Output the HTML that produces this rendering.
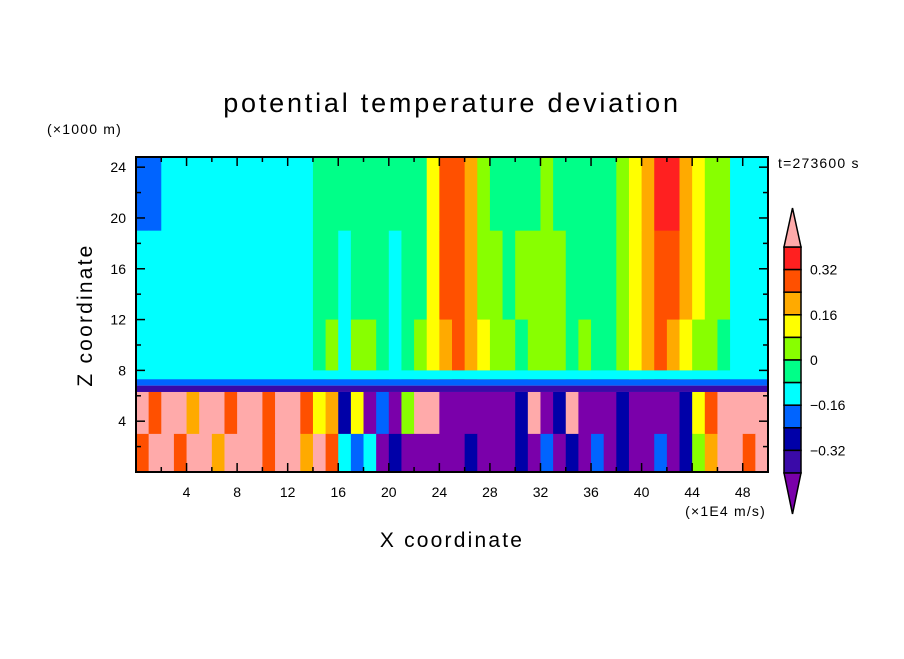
<!DOCTYPE html>
<html><head><meta charset="utf-8"><style>
body{margin:0;background:#fff;}
svg text{font-family:"Liberation Sans",sans-serif;fill:#000;}
</style></head><body>
<svg id="c" width="904" height="654">
<text x="452" y="112" font-size="27" letter-spacing="2.8" text-anchor="middle">potential temperature deviation</text>
<text x="47" y="134" font-size="14" letter-spacing="1.2">(×1000 m)</text>
<text x="778" y="168" font-size="14" letter-spacing="1.2">t=273600 s</text>
<text x="452" y="547" font-size="21" letter-spacing="2.2" text-anchor="middle">X coordinate</text>
<text x="92" y="315" font-size="21" letter-spacing="2.2" text-anchor="middle" transform="rotate(-90 92 315)">Z coordinate</text>
<text x="766" y="516" font-size="14" letter-spacing="1.2" text-anchor="end">(×1E4 m/s)</text>
<g id="plot"></g><g id="axes"></g><g id="cbar"></g>
</svg>
<script>
const xTicks=[4,8,12,16,20,24,28,32,36,40,44,48];
const yTicks=[4,8,12,16,20,24];
const cbLabels=["0.32","0.16","0","−0.16","−0.32"];
const levels=[-0.40,-0.32,-0.24,-0.16,-0.08,0,0.08,0.16,0.24,0.32,0.40];
const colors=["#7a00aa","#3a0aa8","#0000a8","#0064ff","#00ffff","#00ff88","#88ff00","#ffff00","#ffaa00","#ff5000","#ff2020","#ffaaaa"];
// per x-unit columns (0..49), layers by height
const upHigh=[-0.2,-0.2,-0.12,-0.12,-0.12,-0.12,-0.12,-0.12,-0.12,-0.12,-0.12,-0.12,-0.12,-0.12,-0.04,-0.04,-0.04,-0.04,-0.04,-0.04,-0.04,-0.04,-0.04,0.12,0.28,0.28,0.2,0.04,-0.04,-0.04,-0.04,-0.04,0.04,-0.04,-0.04,-0.04,-0.04,-0.04,0.04,0.12,0.2,0.36,0.36,0.2,0.12,0.04,0.04,-0.12,-0.12,-0.12];
const upMid=[-0.12,-0.12,-0.12,-0.12,-0.12,-0.12,-0.12,-0.12,-0.12,-0.12,-0.12,-0.12,-0.12,-0.12,-0.04,-0.04,-0.12,-0.04,-0.04,-0.04,-0.12,-0.04,-0.04,0.12,0.28,0.28,0.2,0.04,0.04,-0.04,0.04,0.04,0.04,0.04,-0.04,-0.04,-0.04,-0.04,0.04,0.12,0.2,0.28,0.28,0.2,0.12,0.04,0.04,-0.12,-0.12,-0.12];
const upLow=[-0.12,-0.12,-0.12,-0.12,-0.12,-0.12,-0.12,-0.12,-0.12,-0.12,-0.12,-0.12,-0.12,-0.12,-0.04,0.04,-0.12,0.04,0.04,-0.04,-0.12,-0.04,0.04,0.12,0.2,0.28,0.2,0.12,0.04,0.04,-0.04,0.04,0.04,0.04,-0.04,0.04,-0.04,-0.04,0.04,0.12,0.2,0.28,0.2,0.12,0.04,0.04,-0.04,-0.12,-0.12,-0.12];
const lowTop=[0.45,0.28,0.45,0.45,0.2,0.45,0.45,0.28,0.45,0.45,0.28,0.45,0.45,0.28,0.12,0.2,-0.3,0.12,-0.45,-0.2,-0.45,0.04,0.45,0.45,-0.45,-0.45,-0.45,-0.45,-0.45,-0.45,-0.3,0.45,-0.45,-0.3,0.45,-0.45,-0.45,-0.45,-0.3,-0.45,-0.45,-0.45,-0.45,-0.3,0.12,0.28,0.45,0.45,0.45,0.45];
const lowBot=[0.28,0.45,0.45,0.28,0.45,0.45,0.2,0.45,0.45,0.45,0.28,0.45,0.45,0.2,0.45,0.28,-0.12,-0.2,-0.12,-0.45,-0.3,-0.45,-0.45,-0.45,-0.45,-0.45,-0.3,-0.45,-0.45,-0.45,-0.3,-0.45,-0.2,-0.45,-0.3,-0.45,-0.2,-0.45,-0.3,-0.45,-0.45,-0.2,-0.45,-0.3,0.04,0.2,0.45,0.45,0.28,0.45];
const X=v=>136+v*(632/50), Z=v=>472-v*(315/24.8);
function col(v){let i=0;while(i<levels.length&&v>=levels[i])i++;return colors[i];}
const ns="http://www.w3.org/2000/svg";
function mk(t,a,p){const e=document.createElementNS(ns,t);for(const k in a)e.setAttribute(k,a[k]);p.appendChild(e);return e;}
const plot=document.getElementById('plot');
const layers=[[upHigh,19,24.8,'cell-upper-high'],[upMid,12,19,'cell-upper-mid'],[upLow,7.3,12,'cell-upper-low'],[lowTop,3,6.3,'cell-lower-top'],[lowBot,0,3,'cell-lower-bottom']];
layers.forEach(([arr,z0,z1,nm])=>{
 for(let i=0;i<arr.length;i++){
  const r=mk('rect',{x:X(i),y:Z(z1),width:X(i+1)-X(i)+0.5,height:Z(z0)-Z(z1)+0.5,fill:col(arr[i])},plot);
  
  
 }
});
let c=mk('rect',{x:X(0),y:Z(8),width:632,height:Z(7.3)-Z(8),fill:"#00ffff"},plot);


let b=mk('rect',{x:X(0),y:Z(7.3),width:632,height:Z(6.8)-Z(7.3),fill:"#0064ff"},plot);


b=mk('rect',{x:X(0),y:Z(6.8),width:632,height:Z(6.3)-Z(6.8),fill:"#3a0aa8"},plot);


const ax=document.getElementById('axes');
let f=mk('rect',{x:136,y:157,width:632,height:315,fill:"none",stroke:"#000","stroke-width":2},ax);


for(let v=2;v<50;v+=2){const L=v%4==0?9:5;
 mk('line',{x1:X(v),x2:X(v),y1:472,y2:472-L,stroke:"#000","stroke-width":1.5},ax);
 mk('line',{x1:X(v),x2:X(v),y1:157,y2:157+L,stroke:"#000","stroke-width":1.5},ax);}
for(let v=2;v<25;v+=2){const L=v%4==0?9:5;
 mk('line',{x1:136,x2:136+L,y1:Z(v),y2:Z(v),stroke:"#000","stroke-width":1.5},ax);
 mk('line',{x1:768,x2:768-L,y1:Z(v),y2:Z(v),stroke:"#000","stroke-width":1.5},ax);}
xTicks.forEach(v=>{const t=mk('text',{x:X(v),y:497,"font-size":14,"text-anchor":"middle"},ax);t.textContent=v;
 
 });
yTicks.forEach(v=>{const t=mk('text',{x:126,y:Z(v)+5,"font-size":14,"text-anchor":"end"},ax);t.textContent=v;
 
 });
const cb=document.getElementById('cbar');
const cbTop=247,h=22.6,cx=784,cw=17;
for(let k=0;k<10;k++){const r=mk('rect',{x:cx,y:cbTop+k*h,width:cw,height:h,fill:colors[10-k],stroke:"#000","stroke-width":1.5},cb);
 
 }
let p=mk('polygon',{points:`${cx},${cbTop} ${cx+cw},${cbTop} ${cx+cw/2},208`,fill:colors[11],stroke:"#000","stroke-width":1.5},cb);


p=mk('polygon',{points:`${cx},${cbTop+10*h} ${cx+cw},${cbTop+10*h} ${cx+cw/2},514`,fill:colors[0],stroke:"#000","stroke-width":1.5},cb);


cbLabels.forEach((s,k)=>{const t=mk('text',{x:810,y:cbTop+(k*2+1)*h+5,"font-size":14},cb);t.textContent=s;
 
 });
</script>
</body></html>
